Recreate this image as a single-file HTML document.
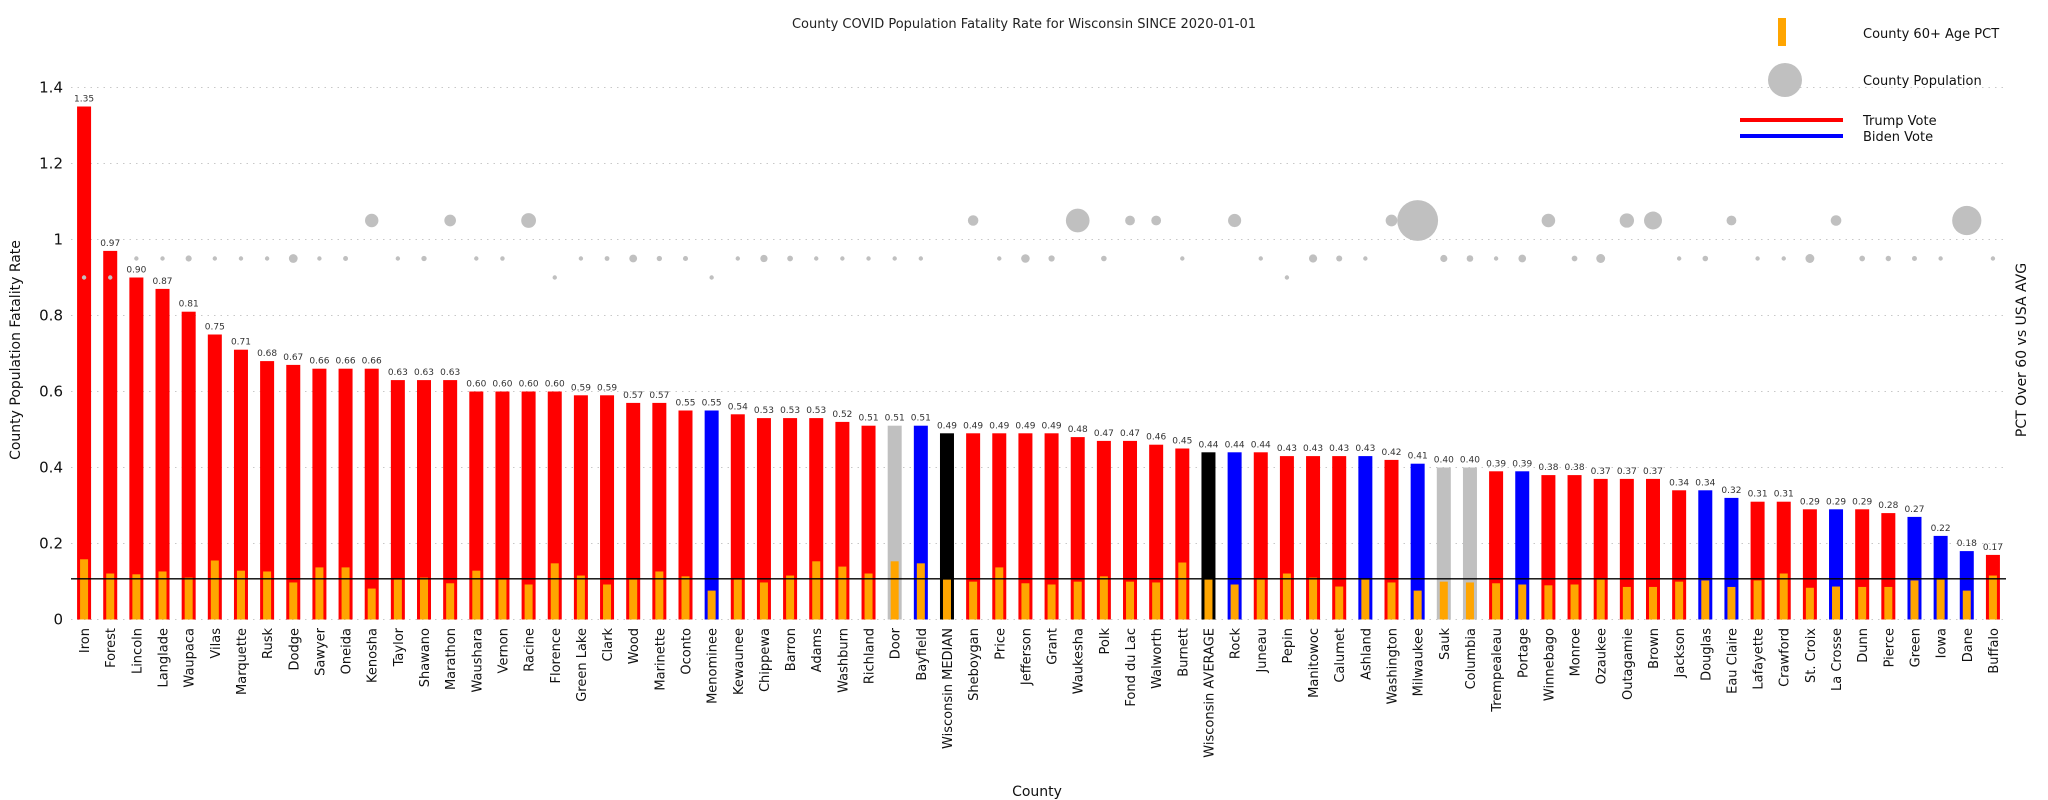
<!DOCTYPE html>
<html><head><meta charset="utf-8"><style>
html,body{margin:0;padding:0;background:#fff;}
svg{display:block;font-family:"DejaVu Sans","Liberation Sans",sans-serif;}
</style></head><body>
<svg id="chart" width="2048" height="800" viewBox="0 0 2048 800" xmlns="http://www.w3.org/2000/svg">
<text x="1024" y="28" text-anchor="middle" font-size="13" fill="#222">County COVID Population Fatality Rate for Wisconsin SINCE 2020-01-01</text>
<g id="grid"></g><g id="bars"></g><g id="dots"></g><g id="labels"></g>
<text transform="translate(20,350) rotate(-90)" text-anchor="middle" font-size="14" fill="#111">County Population Fatality Rate</text>
<text transform="translate(2026,350) rotate(-90)" text-anchor="middle" font-size="14" fill="#111">PCT Over 60 vs USA AVG</text>
<text x="1037" y="796" text-anchor="middle" font-size="14" fill="#111">County</text>
<g>
<rect x="1778" y="18" width="8" height="28" fill="#ffa500"/>
<text x="1863" y="38" font-size="13" fill="#111">County 60+ Age PCT</text>
<circle cx="1785" cy="80" r="17" fill="#c0c0c0"/>
<text x="1863" y="85" font-size="13" fill="#111">County Population</text>
<line x1="1740" y1="120" x2="1843" y2="120" stroke="#ff0000" stroke-width="4"/>
<text x="1863" y="125" font-size="13" fill="#111">Trump Vote</text>
<line x1="1740" y1="136" x2="1843" y2="136" stroke="#0000ff" stroke-width="4"/>
<text x="1863" y="141" font-size="13" fill="#111">Biden Vote</text>
</g>
</svg>
<script>
const counties=["Iron","Forest","Lincoln","Langlade","Waupaca","Vilas","Marquette","Rusk","Dodge","Sawyer","Oneida","Kenosha","Taylor","Shawano","Marathon","Waushara","Vernon","Racine","Florence","Green Lake","Clark","Wood","Marinette","Oconto","Menominee","Kewaunee","Chippewa","Barron","Adams","Washburn","Richland","Door","Bayfield","Wisconsin MEDIAN","Sheboygan","Price","Jefferson","Grant","Waukesha","Polk","Fond du Lac","Walworth","Burnett","Wisconsin AVERAGE","Rock","Juneau","Pepin","Manitowoc","Calumet","Ashland","Washington","Milwaukee","Sauk","Columbia","Trempealeau","Portage","Winnebago","Monroe","Ozaukee","Outagamie","Brown","Jackson","Douglas","Eau Claire","Lafayette","Crawford","St. Croix","La Crosse","Dunn","Pierce","Green","Iowa","Dane","Buffalo"];
const fatalityRate=[1.35,0.97,0.90,0.87,0.81,0.75,0.71,0.68,0.67,0.66,0.66,0.66,0.63,0.63,0.63,0.60,0.60,0.60,0.60,0.59,0.59,0.57,0.57,0.55,0.55,0.54,0.53,0.53,0.53,0.52,0.51,0.51,0.51,0.49,0.49,0.49,0.49,0.49,0.48,0.47,0.47,0.46,0.45,0.44,0.44,0.44,0.43,0.43,0.43,0.43,0.42,0.41,0.40,0.40,0.39,0.39,0.38,0.38,0.37,0.37,0.37,0.34,0.34,0.32,0.31,0.31,0.29,0.29,0.29,0.28,0.27,0.22,0.18,0.17];
const vote=["R","R","R","R","R","R","R","R","R","R","R","R","R","R","R","R","R","R","R","R","R","R","R","R","D","R","R","R","R","R","R","S","D","M","R","R","R","R","R","R","R","R","R","M","D","R","R","R","R","D","R","D","S","S","R","D","R","R","R","R","R","R","D","D","R","R","R","D","R","R","D","D","D","R"];
const over60Ratio=[1.48,1.13,1.11,1.18,1.03,1.45,1.20,1.18,0.91,1.28,1.28,0.76,0.98,1.03,0.89,1.20,0.98,0.86,1.38,1.08,0.86,0.98,1.18,1.06,0.71,0.98,0.91,1.08,1.43,1.30,1.13,1.43,1.38,0.98,0.93,1.28,0.89,0.86,0.93,1.06,0.93,0.91,1.40,0.98,0.86,0.98,1.13,1.03,0.81,0.98,0.91,0.71,0.93,0.91,0.89,0.86,0.84,0.86,0.98,0.80,0.80,0.93,0.96,0.80,0.96,1.13,0.78,0.81,0.80,0.80,0.96,0.98,0.71,1.08];
const populationK=[6,9,28,19,51,22,15,14,88,16,36,169,20,41,136,24,31,197,4.5,19,35,74,41,38,4.3,20.5,66,46,20,16,17,28,16,null,116,13.4,85,52,406,44,104,104,16,null,164,27,7.3,79,50,16,137,939,64,57,30,71,172,46,90,188,265,21,44,105,17,16,90,118,45,42,37,24,561,13];
const yTicks=[0,0.2,0.4,0.6,0.8,1,1.2,1.4];
const yTickLabels=["0","0.2","0.4","0.6","0.8","1","1.2","1.4"];
const usaAvgRatio=1;

const NS="http://www.w3.org/2000/svg";
const L=71,R=2006,Y0=619.5,PPU=380,RPPU=40.7;
const band=(R-L)/counties.length;
function x(i){return L+band*(i+0.5);}
function y(v){return Y0-v*PPU;}
function y2(v){return Y0-v*RPPU;}
function rad(p){return Math.max(2.2,6.7*Math.pow(p/169,0.65));}
function tierY(p){return p<10?0.9:(p<100?0.95:1.05);}
function mk(tag,attrs,parent){const e=document.createElementNS(NS,tag);for(const k in attrs)e.setAttribute(k,attrs[k]);parent.appendChild(e);return e;}
const colors={R:"#ff0000",D:"#0000ff",S:"#c0c0c0",M:"#000000"};
const grid=document.getElementById("grid"),bars=document.getElementById("bars"),dots=document.getElementById("dots"),labels=document.getElementById("labels");
yTicks.forEach((t,k)=>{
  const g=mk("line",{x1:L,x2:R+2,y1:y(t),y2:y(t),stroke:"#c8c8c8","stroke-width":1,"stroke-dasharray":"1.5,5"},grid);
  
  
  const tx=mk("text",{x:63,y:y(t)+5,"text-anchor":"end","font-size":15,fill:"#111"},grid);
  tx.textContent=yTickLabels[k];
  
  
});
counties.forEach((c,i)=>{
  const v=fatalityRate[i],cx=x(i);
  const b=mk("rect",{x:cx-7,y:y(v),width:14,height:Y0-y(v),fill:colors[vote[i]]},bars);
  
  
  const o=mk("rect",{x:cx-4,y:y2(over60Ratio[i]),width:8,height:Y0-y2(over60Ratio[i]),fill:"#ffa500"},bars);
  
  
  const vl=mk("text",{x:cx,y:y(v)-5,"text-anchor":"middle","font-size":9,fill:"#333"},labels);
  vl.textContent=v.toFixed(2);
  
  
  const xl=mk("text",{transform:`translate(${cx+5},628) rotate(-90)`,"text-anchor":"end","font-size":13,fill:"#111"},labels);
  xl.textContent=c;
  
  
  const p=populationK[i];
  if(p!==null){
    const d=mk("circle",{cx:cx,cy:y(tierY(p)),r:rad(p),fill:"#c0c0c0"},dots);
    
    
  }
});
const ln=mk("line",{x1:L,x2:R,y1:y2(usaAvgRatio),y2:y2(usaAvgRatio),stroke:"#000","stroke-width":1.3},labels);


</script>
</body></html>
